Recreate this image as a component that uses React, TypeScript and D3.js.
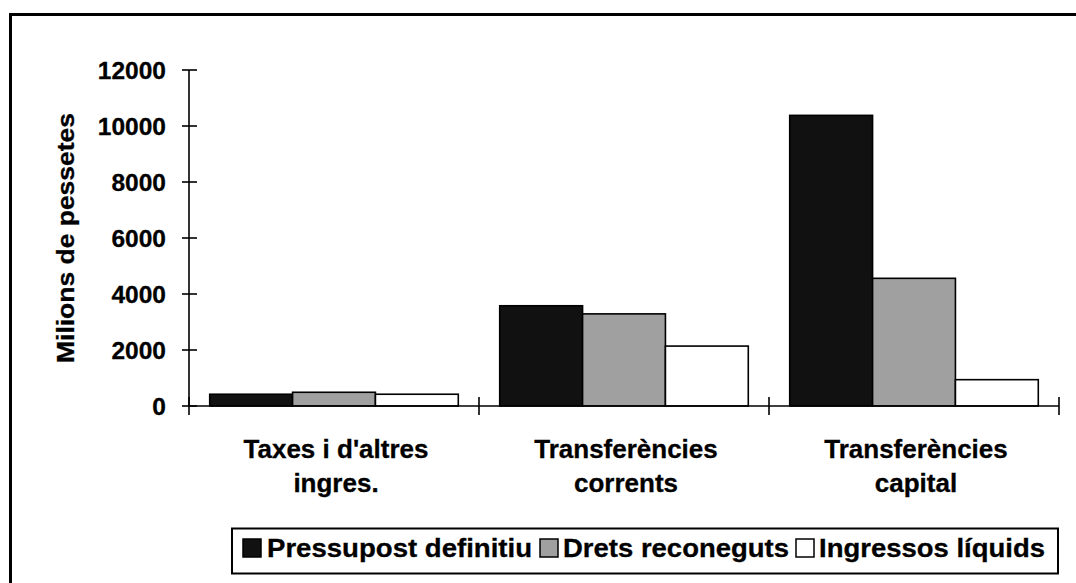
import React from "react";
import * as d3 from "d3";

const categories: string[][] = [
  ["Taxes i d'altres", "ingres."],
  ["Transferències", "corrents"],
  ["Transferències", "capital"],
];
const categoryKeys = ["c1", "c2", "c3"];
const seriesNames = ["Pressupost definitiu", "Drets reconeguts", "Ingressos líquids"];
const pressupost = [420, 3580, 10380];
const drets = [490, 3290, 4560];
const ingressos = [420, 2140, 940];
const seriesValues = [pressupost, drets, ingressos];
const seriesColors = ["#111111", "#a0a0a0", "#ffffff"];
const yTicks = [0, 2000, 4000, 6000, 8000, 10000, 12000];
const yTitle = "Milions de pessetes";

const W = 1076;
const H = 583;
const FONT = "'Liberation Sans', Arial, Helvetica, sans-serif";

export default function App() {
  const y = d3.scaleLinear().domain([0, 12000]).range([406, 70]);
  const x0 = d3.scaleBand<string>().domain(categoryKeys).range([189, 1059]).padding(0);
  const x1 = d3
    .scaleBand<number>()
    .domain([0, 1, 2])
    .range([0, x0.bandwidth()])
    .paddingInner(0)
    .paddingOuter(0.25);

  const axisX = 189;
  const baseY = y(0);
  const boundaries = [...categoryKeys.map((k) => x0(k) as number), 1059];

  const legendItems = [
    { sq: 243, tx: 267, len: 265 },
    { sq: 540, tx: 563, len: 226 },
    { sq: 796, tx: 819, len: 226 },
  ];

  return (
    <svg
      width={W}
      height={H}
      style={{ position: "absolute", left: 0, top: 0, background: "#fff" }}
      fontFamily={FONT}
      fontWeight="bold"
    >
      <rect x={0} y={0} width={W} height={H} fill="#fff" />
      {/* outer frame */}
      <path d={`M10.5,${H + 5} L10.5,14.5 L${W + 5},14.5`} fill="none" stroke="#000" strokeWidth={3} />

      {/* bars */}
      {categoryKeys.map((k, ci) => (
        <g key={k} transform={`translate(${x0(k)},0)`}>
          {seriesValues.map((vals, si) => (
            <rect
              key={si}
              x={x1(si) as number}
              y={y(vals[ci])}
              width={x1.bandwidth()}
              height={baseY - y(vals[ci])}
              fill={seriesColors[si]}
              stroke="#000"
              strokeWidth={1.6}
            />
          ))}
        </g>
      ))}

      {/* y axis */}
      <line x1={axisX} x2={axisX} y1={y(12000)} y2={baseY} stroke="#000" strokeWidth={1.6} />
      {yTicks.map((t) => (
        <g key={t}>
          <line x1={axisX - 7} x2={axisX + 8} y1={y(t)} y2={y(t)} stroke="#000" strokeWidth={1.6} />
          <text x={166} y={y(t) + 9} textAnchor="end" fontSize={24.5} fill="#000" stroke="#000" strokeWidth={0.3}>
            {t}
          </text>
        </g>
      ))}

      {/* x axis */}
      <line x1={axisX} x2={1059} y1={baseY} y2={baseY} stroke="#000" strokeWidth={1.6} />
      {boundaries.map((bx, i) => (
        <line key={i} x1={bx} x2={bx} y1={baseY - 9} y2={baseY + 9} stroke="#000" strokeWidth={1.6} />
      ))}
      {categoryKeys.map((k, ci) => (
        <text key={k} textAnchor="middle" fontSize={26} fill="#000" stroke="#000" strokeWidth={0.3}>
          {categories[ci].map((line, li) => (
            <tspan key={li} x={(x0(k) as number) + x0.bandwidth() / 2 + 2} y={458 + li * 34}>
              {line}
            </tspan>
          ))}
        </text>
      ))}

      {/* y title */}
      <text
        transform={`translate(74,${(y(0) + y(12000)) / 2}) rotate(-90)`}
        textAnchor="middle"
        fontSize={24}
        textLength={250}
        lengthAdjust="spacingAndGlyphs"
        fill="#000"
        stroke="#000"
        strokeWidth={0.3}
      >
        {yTitle}
      </text>

      {/* legend */}
      <rect x={232} y={528.5} width={826} height={45} fill="#fff" stroke="#000" strokeWidth={2} />
      {seriesNames.map((n, i) => (
        <g key={n}>
          <rect
            x={legendItems[i].sq}
            y={539}
            width={18}
            height={18}
            fill={seriesColors[i]}
            stroke="#000"
            strokeWidth={1.5}
          />
          <text
            x={legendItems[i].tx}
            y={557}
            fontSize={26}
            textLength={legendItems[i].len}
            lengthAdjust="spacingAndGlyphs"
            fill="#000"
            stroke="#000"
            strokeWidth={0.3}
          >
            {n}
          </text>
        </g>
      ))}
    </svg>
  );
}
